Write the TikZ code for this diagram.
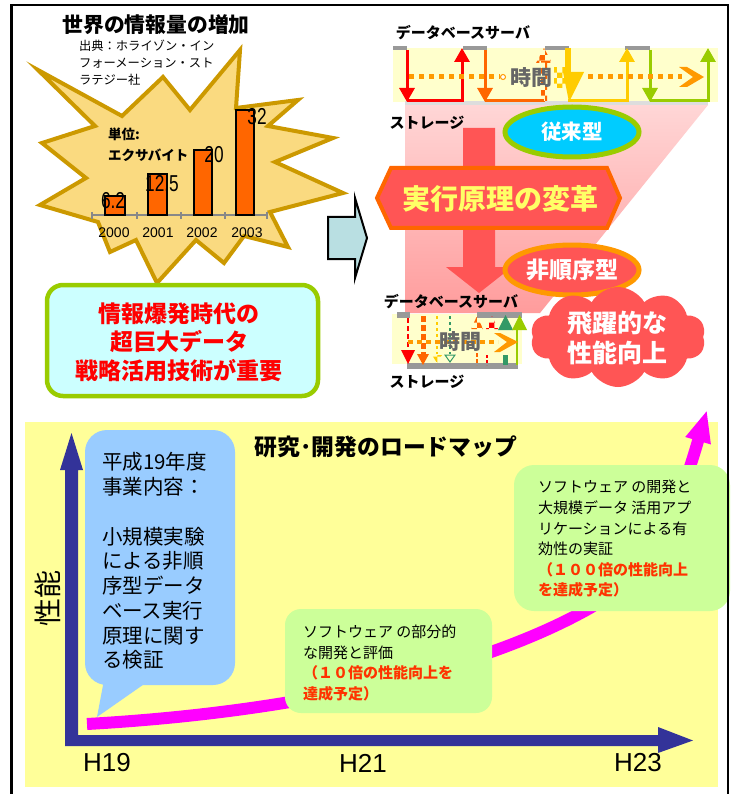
\documentclass[tikz,border=0pt]{standalone}
\usepackage{fontspec}
\setmainfont{Noto Sans CJK JP}
\newfontfamily\arialf{Liberation Sans}
\newfontfamily\narrowf[FakeStretch=0.75]{Liberation Sans}
\usetikzlibrary{arrows.meta,shapes.geometric,shapes.symbols,patterns}
\definecolor{burstfill}{HTML}{FADA80}
\definecolor{burstline}{HTML}{CC9900}
\definecolor{barorange}{HTML}{FF6600}
\definecolor{axisgray}{HTML}{888888}
\definecolor{tealfill}{HTML}{B9DFE2}
\definecolor{limegreen}{HTML}{99CC00}
\definecolor{paleCyan}{HTML}{CCFFFF}
\definecolor{bandyel}{HTML}{FFFFCC}
\definecolor{servergray}{HTML}{999999}
\definecolor{storgray}{HTML}{DDDDDD}
\definecolor{sred}{HTML}{FF0000}
\definecolor{sorange}{HTML}{FF6600}
\definecolor{syellow}{HTML}{FFCC00}
\definecolor{sdgreen}{HTML}{339966}
\definecolor{dotorange}{HTML}{FF9900}
\definecolor{textgray}{HTML}{666666}
\definecolor{pinktop}{HTML}{FFD6D6}
\definecolor{pinkbot}{HTML}{FF9C9C}
\definecolor{bigred}{HTML}{FF5555}
\definecolor{hexline}{HTML}{FF6600}
\definecolor{hextext}{HTML}{FFFF66}
\definecolor{ellcyan}{HTML}{00CCFF}
\definecolor{ellorange}{HTML}{FF9900}
\definecolor{bgyellow}{HTML}{FFFF99}
\definecolor{axisblue}{HTML}{333399}
\definecolor{callblue}{HTML}{99CCFF}
\definecolor{boxgreen}{HTML}{CCFF99}
\definecolor{magentaA}{HTML}{FF00FF}
\definecolor{redtext}{HTML}{FF3300}
\newcommand\fsz[2]{\fontsize{#1}{#2}\selectfont}
\begin{document}
\begin{tikzpicture}[x=1pt,y=-1pt,
  every node/.style={inner sep=0pt,outer sep=0pt},
  sline/.style={line width=3pt,line join=miter},
  stip/.style={-{Triangle[width=15pt,length=14pt]}},
  barbox/.style={fill=barorange,draw=black,line width=1.5pt},
  chartnum/.style={font=\narrowf\fsz{23}{26}},
  yearlab/.style={font=\arialf\fsz{14}{16}},
  dbtext/.style={font=\fsz{15}{18}\bfseries},
  timetext/.style={text=textgray,font=\fsz{21}{24}\bfseries},
  hlab/.style={font=\arialf\fsz{26}{30}},
  boxtext/.style={font=\fsz{15}{20.6},align=left,anchor=west}
]
\useasboundingbox (0,0) rectangle (734,794);
\fill[white] (0,0) rectangle (734,794);

% ---------- starburst ----------
\filldraw[fill=burstfill,draw=burstline,line width=4pt,line join=miter]
 (38,70) -- (122,116) -- (163,77) -- (190,110) -- (240,50) -- (236,108)
 -- (298,100) -- (268,126) -- (333,138) -- (275,162) -- (343,193) -- (270,212)
 -- (288,247) -- (244,236) -- (224,263) -- (196,240) -- (157,283) -- (136,240)
 -- (110,252) -- (98,222) -- (40,205) -- (86,178) -- (42,143) -- (95,126) -- cycle;

\node[font=\fsz{20.8}{24}\bfseries] (title) at (156,25) {世界の情報量の増加};
\node[font=\fsz{12.3}{17},align=left,anchor=west] (source) at (79,63)
 {出典：ホライゾン・イン\\フォーメーション・スト\\ラテジー社};

% chart
\draw[axisgray,line width=2.5pt] (91,215) -- (268,215);
\foreach \t in {92,137,181,225,267} \draw[axisgray,line width=2pt] (\t,212) -- (\t,219);
\draw[barbox] (105,196) rectangle (125,215);
\draw[barbox] (148,174) rectangle (167,215);
\draw[barbox] (194,150) rectangle (212,215);
\draw[barbox] (236,110) rectangle (254,215);
\node[chartnum] (v2000) at (113,201) {6.2};
\node[chartnum] (v2001) at (162,184) {12.5};
\node[chartnum] (v2002) at (214,155) {20};
\node[chartnum] (v2003) at (257,117) {32};
\node[yearlab] (y2000) at (114,233) {2000};
\node[yearlab] (y2001) at (158,233) {2001};
\node[yearlab] (y2002) at (202,233) {2002};
\node[yearlab] (y2003) at (247,233) {2003};
\node[font=\fsz{13.5}{16}\bfseries,anchor=west] (unit1) at (108,134) {単位:};
\node[font=\fsz{13.5}{16}\bfseries,anchor=west] (unit2) at (108,155) {エクサバイト};

% blue arrow
\filldraw[fill=tealfill,draw=black,line width=2pt,line join=miter]
 (328,217) -- (355,217) -- (355,198) -- (367,238) -- (355,278) -- (355,259) -- (328,259) -- cycle;

% green box
\filldraw[fill=paleCyan,draw=limegreen,line width=4.5pt,rounded corners=16pt] (47,285) rectangle (318,396);
\node[text=sred,font=\fsz{23}{28.5}\bfseries,align=center] (important) at (179,342)
 {情報爆発時代の\\超巨大データ\\戦略活用技術が重要};

% ---------- right top ----------
\shade[top color=pinktop,bottom color=pinkbot] (405,105) -- (708,105) -- (540,313) -- (405,313) -- cycle;

\node[dbtext] (db1) at (463,33) {データベースサーバ};
\fill[bandyel] (393,48) rectangle (718,102);
\fill[storgray] (405,101) rectangle (708,105);
\foreach \a/\b in {393/407,463/487,545/569,625/650} \fill[servergray] (\a,46) rectangle (\b,50);

\draw[sline,sred,stip] (407,50) -- (407,102);
\draw[sline,sred,stip] (407,101) -- (462,101) -- (462,48);
\draw[sline,sorange,stip] (485,50) -- (485,102);
\draw[sline,sorange] (485,101) -- (544,101);
\fill[pattern=checkerboard,pattern color=sorange] (541,62) rectangle (547,102);
\fill[pattern=checkerboard,pattern color=sorange] (536,63) -- (544,48) -- (552,63) -- cycle;
\fill[pattern=checkerboard,pattern color=syellow] (554,68) rectangle (566,88);
\draw[line width=6pt,syellow] (568,48) -- (568,74);
\fill[syellow] (563,72) -- (584,72) -- (569,102) -- cycle;
\draw[sline,syellow,stip] (568,101) -- (627,101) -- (627,48);
\draw[sline,limegreen,stip] (650,50) -- (650,102);
\draw[sline,limegreen,stip] (650,101) -- (708,101) -- (708,48);

\draw[dotorange,line width=5pt,dash pattern=on 5pt off 5pt] (409,77) -- (500,77);
\draw[dotorange,line width=5pt,dash pattern=on 5pt off 5pt] (588,77) -- (682,77);
\filldraw[fill=white,draw=dotorange,line width=1pt] (503,77) circle (2.5pt);
\fill[dotorange] (679,67) -- (687,67) -- (704,77) -- (687,87) -- (679,87) -- (693,77) -- cycle;
\node[timetext] (time1) at (531,78) {時間};
\node[dbtext] (st1) at (427,123) {ストレージ};

% big red arrow
\fill[bigred] (463,128) -- (495,128) -- (495,267) -- (512,267) -- (479,293) -- (446,267) -- (463,267) -- cycle;

\node[ellipse,draw=limegreen,line width=5pt,fill=ellcyan,minimum width=134pt,minimum height=50pt,
 text=white,font=\fsz{20.5}{24}\bfseries] (conv) at (572,132) {従来型};

\filldraw[fill=bigred,draw=hexline,line width=4pt,line join=miter]
 (377,198) -- (391,168) -- (607,168) -- (620,198) -- (607,228) -- (391,228) -- cycle;
\node[text=hextext,font=\fsz{28}{32}\bfseries] (change) at (500,199) {実行原理の変革};

\node[ellipse,draw=ellorange,line width=5pt,fill=bigred,minimum width=134pt,minimum height=50pt,
 text=white,font=\fsz{23}{26}\bfseries] (nonseq) at (572,270) {非順序型};

\node[cloud,cloud puffs=10,cloud puff arc=120,aspect=1.8,fill=bigred,minimum width=175pt,minimum height=100pt] (leap) at (618,337) {};
\node[text=white,font=\fsz{25}{30}\bfseries,align=center] (leaptext) at (617,338) {飛躍的な\\性能向上};

% small diagram
\node[dbtext] (db2) at (451,302) {データベースサーバ};
\fill[bandyel] (392,314) rectangle (522,364);
\fill[servergray] (397,312) rectangle (410,318);
\fill[servergray] (477,312) rectangle (522,318);
\fill[servergray] (407,363) rectangle (518,369);
\draw[sred,line width=2.5pt,dash pattern=on 5pt off 3pt] (408,318) -- (408,350);
\fill[sred] (401,350) -- (415,350) -- (408,364) -- cycle;
\draw[sorange,line width=5pt,dash pattern=on 6pt off 3pt] (423,316) -- (423,354);
\fill[sorange] (417,354) -- (429,354) -- (423,365) -- cycle;
\draw[syellow,line width=2pt,dash pattern=on 3pt off 3pt] (437,316) -- (437,354);
\fill[pattern=checkerboard,pattern color=syellow] (432,355) -- (442,355) -- (437,363) -- cycle;
\draw[sdgreen,line width=2pt,dash pattern=on 3pt off 3pt] (450,316) -- (450,354);
\draw[sdgreen,line width=1pt] (445,355) -- (455,355) -- (450,362) -- cycle;
\fill[pattern=checkerboard,pattern color=sorange] (471,329) -- (477,316) -- (483,329) -- cycle;
\fill[pattern=checkerboard,pattern color=sred] (486,329) -- (492,316) -- (498,329) -- cycle;
\fill[sdgreen] (498,330) -- (505.5,315) -- (513,330) -- cycle;
\fill[limegreen] (512,330) -- (519.5,315) -- (527,330) -- cycle;
\draw[limegreen,line width=1.5pt] (517,330) -- (517,365);
\draw[sorange,line width=2pt,dash pattern=on 4pt off 2pt] (477,353) -- (477,365);
\draw[sred,line width=2pt,dash pattern=on 3pt off 2pt] (487,355) -- (487,365);
\fill[sdgreen] (503,355) rectangle (508,365);
\draw[dotorange,line width=4pt,dash pattern=on 5pt off 4pt] (408,342) -- (498,342);
\fill[dotorange] (494,333) -- (500,333) -- (518,342) -- (500,352) -- (494,352) -- (507,342) -- cycle;
\node[timetext] (time2) at (460,342) {時間};
\node[dbtext] (st2) at (427,382) {ストレージ};

% ---------- bottom roadmap ----------
\fill[bgyellow] (25,422) rectangle (718,787);
\node[font=\fsz{22.8}{26}\bfseries] (roadmap) at (386,447) {研究･開発のロードマップ};

\draw[magentaA,line width=12pt,-{Triangle[width=24pt,length=32pt]}]
 (87,724) .. controls (300,712) and (480,670) .. (590,608)
 .. controls (650,572) and (675,520) .. (707,410);

\fill[axisblue] (65,746) -- (65,470) -- (60,470) -- (71.5,433) -- (83,470) -- (78,470)
 -- (78,735) -- (658,735) -- (658,727) -- (693,740.5) -- (658,753) -- (658,746) -- cycle;

\fill[callblue,rounded corners=22pt] (85,430) rectangle (235,685);
\fill[callblue] (104,680) -- (97,717) -- (150,680) -- cycle;
\node[font=\fsz{20.5}{24.75},align=left,anchor=west] (plan) at (102,561)
 {平成19年度\\事業内容：\\[24.75pt]小規模実験\\による非順\\序型データ\\ベース実行\\原理に関す\\る検証};

\fill[boxgreen,rounded corners=16pt] (285,609) rectangle (492,713);
\node[boxtext] (step1) at (303,663)
 {ソフトウェア の部分的\\な開発と評価\\\textcolor{redtext}{\bfseries（１０倍の性能向上を}\\\textcolor{redtext}{\bfseries 達成予定）}};

\fill[boxgreen,rounded corners=20pt] (514,465) rectangle (730,611);
\node[boxtext] (step2) at (538,539)
 {ソフトウェア の開発と\\大規模データ 活用アプ\\リケーションによる有\\効性の実証\\\textcolor{redtext}{\bfseries（１００倍の性能向上}\\\textcolor{redtext}{\bfseries を達成予定）}};

\node[font=\fsz{28}{32},rotate=90] (perf) at (48,598) {性能};
\node[hlab] (h19) at (107,763) {H19};
\node[hlab] (h21) at (363,763) {H21};
\node[hlab] (h23) at (638,763) {H23};

% frame
\draw[black,line width=2.2pt] (11.5,5) rectangle (728,800);
\end{tikzpicture}
\end{document}
